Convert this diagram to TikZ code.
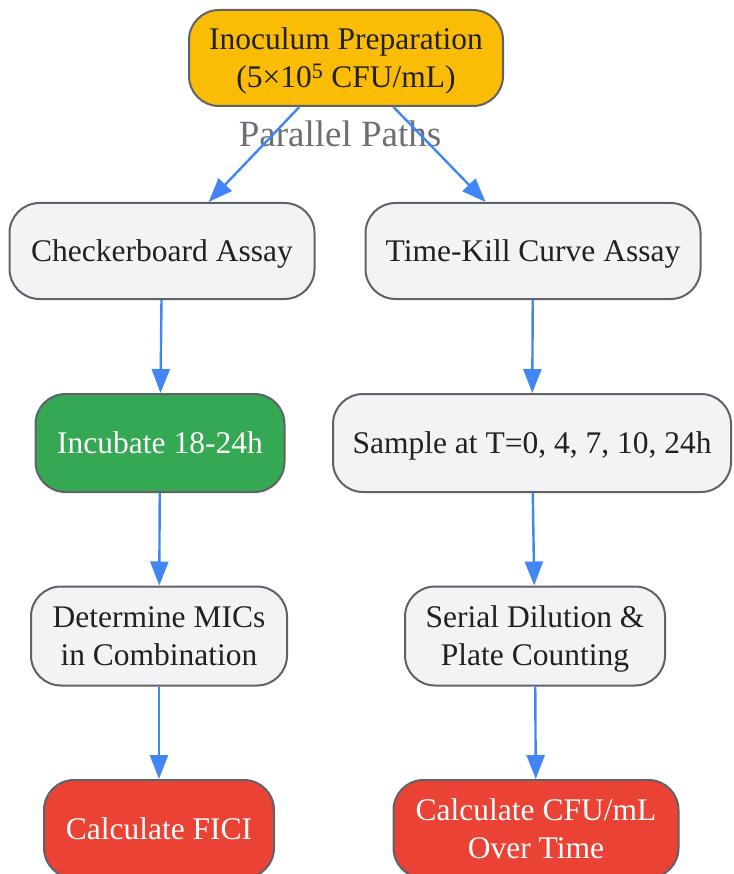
\documentclass[tikz,border=0pt]{standalone}
\usepackage{fontspec}
\setmainfont{Liberation Serif}
\usetikzlibrary{arrows.meta}
\definecolor{boxline}{HTML}{5F6368}
\definecolor{boxfill}{HTML}{F1F3F4}
\definecolor{textdark}{HTML}{202124}
\definecolor{startyellow}{HTML}{FBBC05}
\definecolor{incgreen}{HTML}{34A853}
\definecolor{endred}{HTML}{EA4335}
\definecolor{arrowblue}{HTML}{4285F4}
\definecolor{labelgray}{HTML}{6B6E72}
\begin{document}
\begin{tikzpicture}[x=1pt,y=-1pt,
  box/.style={draw=boxline, line width=2pt, rounded corners=30pt, fill=boxfill,
    text=textdark, align=center, inner sep=0pt, text depth=0pt,
    font=\fontsize{31.5}{38}\selectfont},
  startbox/.style={box, fill=startyellow},
  greenbox/.style={box, fill=incgreen, text=white},
  endbox/.style={box, fill=endred, text=white},
  arr/.style={draw=arrowblue, line width=2.4pt, -{Triangle[length=24pt,width=18pt]}}]
\useasboundingbox (0,0) rectangle (733,874);

% start
\node[startbox, minimum width=314pt, minimum height=96pt] (ino) at (346,58)
  {Inoculum Preparation\\(5×10\textsuperscript{5} CFU/mL)};

% checkerboard path
\node[box, minimum width=305pt, minimum height=96pt] (check) at (162,251) {Checkerboard Assay};
\node[greenbox, minimum width=249pt, minimum height=98pt] (inc) at (160,443) {Incubate 18-24h};
\node[box, minimum width=256pt, minimum height=99pt] (mic) at (159,636) {Determine MICs\\in Combination};
\node[endbox, minimum width=230pt, minimum height=98pt] (fici) at (159,829) {Calculate FICI};

% time-kill path
\node[box, minimum width=335pt, minimum height=96pt] (tk) at (533,251) {Time-Kill Curve Assay};
\node[box, minimum width=398pt, minimum height=98pt] (samp) at (532,443) {Sample at T=0, 4, 7, 10, 24h};
\node[box, minimum width=260pt, minimum height=99pt] (dil) at (535,636) {Serial Dilution \&\\Plate Counting};
\node[endbox, minimum width=285pt, minimum height=98pt] (cfu) at (536,829) {Calculate CFU/mL\\Over Time};

\node[text=labelgray, font=\fontsize{37}{44}\selectfont, inner sep=0pt] (par) at (340,134) {Parallel Paths};

\draw[arr] (ino) -- (check);
\draw[arr] (ino) -- (tk);
\draw[arr] (check) -- (inc);
\draw[arr] (inc) -- (mic);
\draw[arr] (mic) -- (fici);
\draw[arr] (tk) -- (samp);
\draw[arr] (samp) -- (dil);
\draw[arr] (dil) -- (cfu);
\end{tikzpicture}
\end{document}
